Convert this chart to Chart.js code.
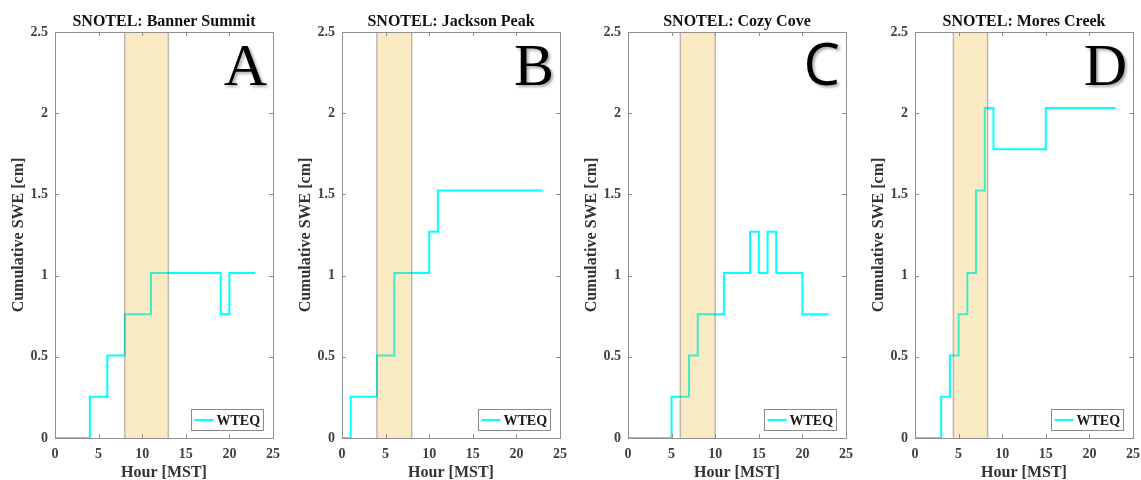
<!DOCTYPE html>
<html>
<head>
<meta charset="utf-8">
<script src="https://cdn.jsdelivr.net/npm/chart.js@4"></script>
<style>
  html, body { margin: 0; padding: 0; background: #fff; overflow: hidden; width: 1141px; height: 480px; }
  canvas { position: absolute; top: 0; }
</style>
</head>
<body>
<canvas id="cA" style="left:0px"></canvas>
<canvas id="cB" style="left:287px"></canvas>
<canvas id="cC" style="left:573px"></canvas>
<canvas id="cD" style="left:860px"></canvas>
<script>
// ---- data ----
const hours = [0,1,2,3,4,5,6,7,8,9,10,11,12,13,14,15,16,17,18,19,20,21,22,23];
const sweBanner  = [0,0,0,0,0.254,0.254,0.508,0.508,0.762,0.762,0.762,1.016,1.016,1.016,1.016,1.016,1.016,1.016,1.016,0.762,1.016,1.016,1.016,1.016];
const sweJackson = [0,0.254,0.254,0.254,0.508,0.508,1.016,1.016,1.016,1.016,1.27,1.524,1.524,1.524,1.524,1.524,1.524,1.524,1.524,1.524,1.524,1.524,1.524,1.524];
const sweCozy    = [0,0,0,0,0,0.254,0.254,0.508,0.762,0.762,0.762,1.016,1.016,1.016,1.27,1.016,1.27,1.016,1.016,1.016,0.762,0.762,0.762,0.762];
const sweMores   = [0,0,0,0.254,0.508,0.762,1.016,1.524,2.032,1.778,1.778,1.778,1.778,1.778,1.778,2.032,2.032,2.032,2.032,2.032,2.032,2.032,2.032,2.032];
const panelTitles = ['SNOTEL: Banner Summit','SNOTEL: Jackson Peak','SNOTEL: Cozy Cove','SNOTEL: Mores Creek'];
const panelLetters = ['A','B','C','D'];
const bandStart = [8, 4, 6, 4.4];
const bandEnd   = [13, 8, 10, 8.33];
const seriesName = 'WTEQ';
const xTitle = 'Hour [MST]';
const yTitle = 'Cumulative SWE [cm]';
const xTickValues = [0, 5, 10, 15, 20, 25];
const yTickValues = [0, 0.5, 1, 1.5, 2, 2.5];
const yTickLabels = ['0', '0.5', '1', '1.5', '2', '2.5'];

const allSeries = [sweBanner, sweJackson, sweCozy, sweMores];
const canvasIds = ['cA','cB','cC','cD'];
const canvasWidths = [287, 286, 287, 281];

const SERIF = '"Liberation Serif", "DejaVu Serif", serif';

const decorPlugin = {
  id: 'decor',
  afterDatasetsDraw(chart, args, opts) {
    const ctx = chart.ctx;
    const ca = chart.chartArea;
    const xs = chart.scales.x, ys = chart.scales.y;
    // shaded band (drawn over the line, semi-transparent)
    const x0 = xs.getPixelForValue(opts.bandStart);
    const x1 = xs.getPixelForValue(opts.bandEnd);
    ctx.save();
    ctx.fillStyle = 'rgba(240,182,40,0.27)';
    ctx.fillRect(x0, ca.top, x1 - x0, ca.bottom - ca.top);
    ctx.strokeStyle = 'rgba(110,110,110,0.45)';
    ctx.lineWidth = 1.5;
    ctx.beginPath();
    ctx.moveTo(x0, ca.top); ctx.lineTo(x0, ca.bottom);
    ctx.moveTo(x1, ca.top); ctx.lineTo(x1, ca.bottom);
    ctx.stroke();
    ctx.restore();

    // box and inward ticks
    ctx.save();
    ctx.strokeStyle = '#8f8f8f';
    ctx.lineWidth = 1;
    ctx.strokeRect(Math.round(ca.left) + 0.5, Math.round(ca.top) + 0.5, Math.round(ca.right - ca.left), Math.round(ca.bottom - ca.top));
    ctx.beginPath();
    xs.ticks.forEach(t => {
      const px = Math.round(xs.getPixelForValue(t.value)) + 0.5;
      ctx.moveTo(px, ca.bottom); ctx.lineTo(px, ca.bottom - 4);
      ctx.moveTo(px, ca.top); ctx.lineTo(px, ca.top + 4);
    });
    ys.ticks.forEach(t => {
      const py = Math.round(ys.getPixelForValue(t.value)) + 0.5;
      ctx.moveTo(ca.left, py); ctx.lineTo(ca.left + 4, py);
      ctx.moveTo(ca.right, py); ctx.lineTo(ca.right - 4, py);
    });
    ctx.stroke();
    ctx.restore();

    // big panel letter
    ctx.save();
    ctx.font = opts.letterFont;
    ctx.fillStyle = '#000';
    ctx.textAlign = 'right';
    ctx.textBaseline = 'alphabetic';
    ctx.shadowColor = 'rgba(0,0,0,0.35)';
    ctx.shadowBlur = 3;
    ctx.shadowOffsetX = 2;
    ctx.shadowOffsetY = 2;
    ctx.fillText(opts.letter, ca.right - 6, ca.top + 53);
    ctx.restore();

    // legend box
    ctx.save();
    const bw = 72, bh = 21;
    const bx = Math.round(ca.right - 10 - bw) + 0.5;
    const by = Math.round(ca.bottom - 8 - bh) + 0.5;
    ctx.fillStyle = '#fff';
    ctx.fillRect(bx, by, bw, bh);
    ctx.strokeStyle = '#8a8a8a';
    ctx.lineWidth = 1;
    ctx.strokeRect(bx, by, bw, bh);
    ctx.strokeStyle = '#00ffff';
    ctx.lineWidth = 2;
    ctx.beginPath();
    ctx.moveTo(bx + 3, by + bh / 2);
    ctx.lineTo(bx + 22, by + bh / 2);
    ctx.stroke();
    ctx.fillStyle = '#1a1a1a';
    ctx.font = 'bold 14px ' + SERIF;
    ctx.textAlign = 'left';
    ctx.textBaseline = 'middle';
    ctx.fillText(opts.label, bx + 25, by + bh / 2 + 1);
    ctx.restore();
  }
};

for (let i = 0; i < 4; i++) {
  const cv = document.getElementById(canvasIds[i]);
  cv.width = canvasWidths[i];
  cv.height = 480;
  const rightPad = canvasWidths[i] - 55 - 218;
  new Chart(cv, {
    type: 'line',
    data: {
      datasets: [{
        label: seriesName,
        data: hours.map((h, k) => ({ x: h, y: allSeries[i][k] })),
        borderColor: '#00ffff',
        backgroundColor: '#00ffff',
        borderWidth: 2,
        pointRadius: 0,
        stepped: 'before',
        fill: false
      }]
    },
    options: {
      responsive: false,
      animation: false,
      devicePixelRatio: 1,
      layout: { padding: { left: 0, right: rightPad, top: 0, bottom: 0 } },
      plugins: {
        legend: { display: false },
        tooltip: { enabled: false },
        title: {
          display: true,
          text: panelTitles[i],
          fullSize: false,
          color: '#111',
          font: { family: SERIF, size: 16, weight: 'bold' },
          padding: { top: 12, bottom: 0.8 }
        },
        decor: {
          bandStart: bandStart[i],
          bandEnd: bandEnd[i],
          letter: panelLetters[i],
          letterFont: panelLetters[i] === 'C' ? '58px "Open Sans", "Liberation Sans", sans-serif' : '60px ' + SERIF,
          label: seriesName
        }
      },
      scales: {
        x: {
          type: 'linear',
          min: xTickValues[0], max: xTickValues[xTickValues.length - 1],
          border: { display: false },
          grid: { display: false, drawTicks: false },
          afterBuildTicks(s) { s.ticks = xTickValues.map(v => ({ value: v })); },
          ticks: { color: '#404040', padding: 8, maxRotation: 0,
                   font: { family: SERIF, size: 14, weight: 'bold' } },
          title: { display: true, text: xTitle, color: '#333', padding: { top: 0, bottom: -2 },
                   font: { family: SERIF, size: 16, weight: 'bold' } },
          afterFit(s) { s.height = 42; s.paddingLeft = 0; s.paddingRight = 0; }
        },
        y: {
          type: 'linear',
          min: yTickValues[0], max: yTickValues[yTickValues.length - 1],
          border: { display: false },
          grid: { display: false, drawTicks: false },
          afterBuildTicks(s) { s.ticks = yTickValues.map(v => ({ value: v })); },
          ticks: { color: '#404040', padding: 7,
                   callback: (v) => yTickLabels[yTickValues.indexOf(v)],
                   font: { family: SERIF, size: 14, weight: 'bold' } },
          title: { display: true, text: yTitle, color: '#333', padding: 9,
                   font: { family: SERIF, size: 16, weight: 'bold' } },
          afterFit(s) { s.width = 55; s.paddingTop = 0; s.paddingBottom = 0; }
        }
      }
    },
    plugins: [decorPlugin]
  });
}
</script>
</body>
</html>
